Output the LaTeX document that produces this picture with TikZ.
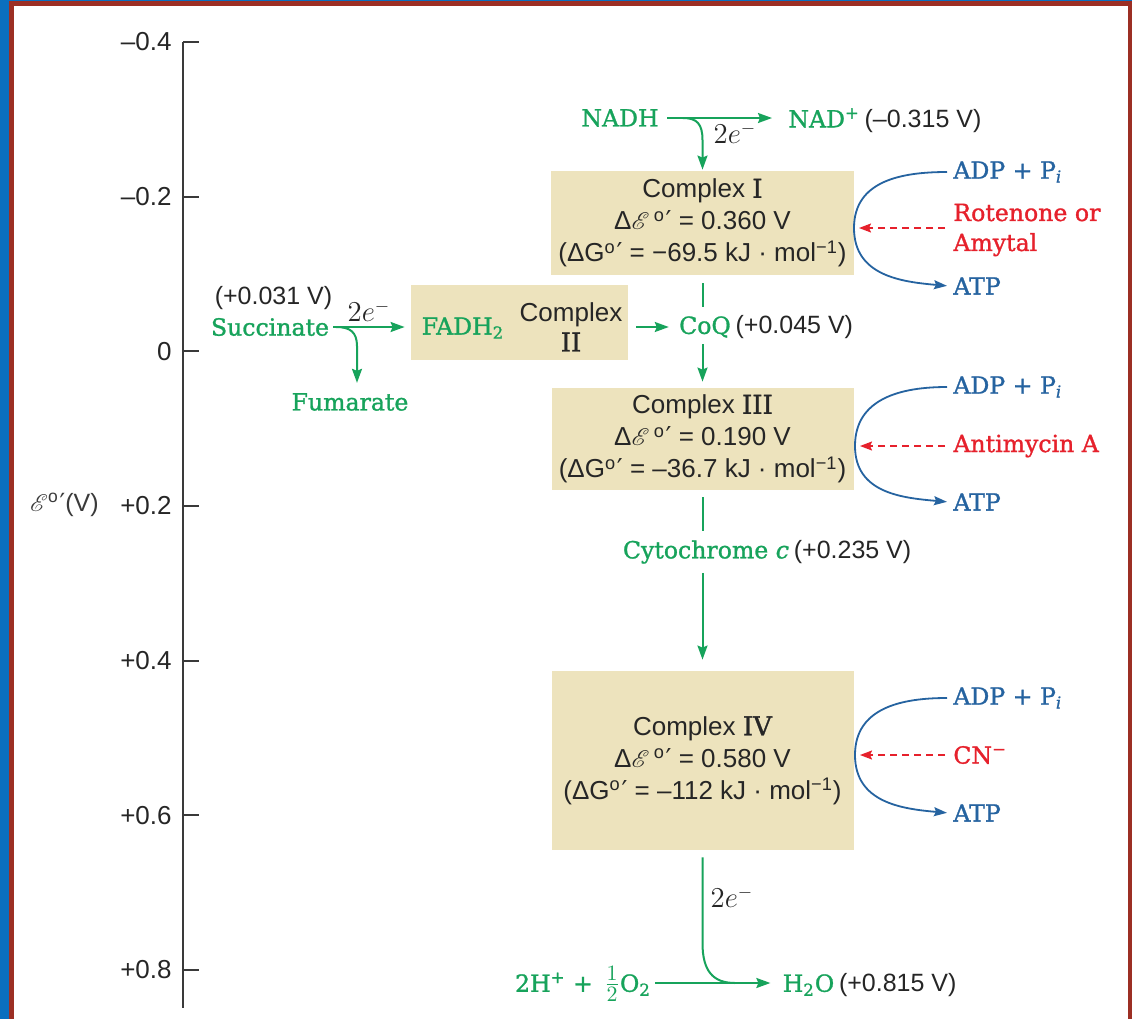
\documentclass[tikz,border=0pt]{standalone}
\usepackage{fontspec}
\usepackage{mathrsfs}
\setmainfont{Liberation Sans}
\newfontfamily\sansf{Liberation Sans}
\newfontfamily\serf[FakeBold=1.2]{DejaVu Serif}
\newfontfamily\djv{DejaVu Sans}
\usetikzlibrary{arrows.meta}

\definecolor{grn}{HTML}{17A35B}
\definecolor{blu}{HTML}{2563A0}
\definecolor{rd}{HTML}{E6212C}
\definecolor{boxc}{HTML}{EDE3BD}
\definecolor{ink}{HTML}{262626}
\definecolor{axc}{HTML}{3A3A3A}
\definecolor{frameblue}{HTML}{0A6FBF}
\definecolor{framered}{HTML}{9C2F24}

% standard-state marker: raised "o" followed by a prime
\newcommand{\degpr}{\textsuperscript{o}\kern0.03em{\djv\char"2032}}
\newcommand{\escr}{$\mathscr{E}$}

\begin{document}
\begin{tikzpicture}[x=0.5pt,y=-0.5pt,
  sf/.style={font=\sansf\fontsize{12.5}{15}\selectfont, text=ink, inner sep=2pt},
  val/.style={font=\sansf\fontsize{12.5}{15}\selectfont, text=ink, inner sep=0pt, anchor=base west},
  bx/.style={fill=boxc, inner sep=0pt, align=center, text=ink,
             font=\sansf\fontsize{13}{16}\selectfont},
  sr/.style={font=\serf\fontsize{11.8}{15}\selectfont, inner sep=2pt},
  gtxt/.style={sr, text=grn},
  btxt/.style={sr, text=blu, anchor=west},
  rtxt/.style={sr, text=rd, anchor=west, align=left},
  elab/.style={text=ink, inner sep=0pt, font=\fontsize{13.5}{15}\selectfont},
  gline/.style={draw=grn, line width=1pt},
  garrow/.style={gline, -{Stealth[length=7pt,width=5pt,inset=1pt]}},
  barrow/.style={draw=blu, line width=0.9pt, -{Stealth[length=6.5pt,width=4.5pt,inset=1pt]}},
  rarrow/.style={draw=rd, line width=0.8pt, dash pattern=on 3.5pt off 2.5pt,
                 -{Stealth[length=6pt,width=4.5pt,inset=1pt]}},
  axisline/.style={draw=axc, line width=1pt},
  ticklab/.style={font=\sansf\fontsize{13}{15}\selectfont, text=ink, anchor=east, inner sep=0pt}
]

% frame and page
\fill[frameblue] (0,0) rectangle (1132,1019);
\fill[framered] (9,1) rectangle (1132,1019);
\fill[white] (14,6) rectangle (1128,1019);
\useasboundingbox (0,0) rectangle (1132,1019);

% potential axis
\coordinate (atop) at (183,42);
\coordinate (abot) at (183,1008);
\draw[axisline] (atop) -- (abot);
\foreach \lab [count=\i from 0] in {–0.4,–0.2,0,+0.2,+0.4,+0.6,+0.8} {
  \coordinate (tk\i) at (183,{42+154.67*\i});
  \draw[axisline] (tk\i) -- ++(16,0);
  \node[ticklab] (tl\i) at (172,{42+154.67*\i}) {\lab};
}
\node[font=\sansf\fontsize{12.5}{15}\selectfont, text=axc, anchor=east, inner sep=0pt]
  (axlab) at (99,505) {$\mathscr{E}$\degpr(V)};

% respiratory complexes
\node[bx, minimum width=151.5pt, minimum height=52pt] (c1) at (702.5,223)
  {Complex {\serf I}\\ Δ\escr\,\degpr{} = 0.360 V\\ (ΔG\degpr{} = −69.5 kJ · mol\textsuperscript{−1})};
\node[bx, minimum width=108.5pt, minimum height=37.5pt] (c2) at (519.5,322.5) {};
\node[bx, minimum width=151pt, minimum height=51pt] (c3) at (702.5,439)
  {Complex {\serf III}\\ Δ\escr\,\degpr{} = 0.190 V\\ (ΔG\degpr{} = –36.7 kJ · mol\textsuperscript{−1})};
\node[bx, minimum width=151pt, minimum height=89.5pt] (c4) at (702.5,760.5)
  {Complex {\serf IV}\\ Δ\escr\,\degpr{} = 0.580 V\\ (ΔG\degpr{} = –112 kJ · mol\textsuperscript{−1})};

\node[gtxt] (fadh) at (463,328) {FADH\textsubscript{2}};
\node[sf, align=center, font=\sansf\fontsize{13}{15}\selectfont] (c2t) at (571,327)
  {Complex\\{\serf II}};

% NADH entry
\node[gtxt] (nadh) at (620,118) {NADH};
\node[gtxt, anchor=west] (nadp) at (784,118) {NAD\textsuperscript{+}};
\node[val] (nadv) at (nadp.base east) {(–0.315 V)};
\coordinate (nb) at (683,118);
\coordinate (nbv) at (702.5,140);
\draw[garrow, shorten <=2pt, shorten >=6pt] (nadh.east) -- (nadp.west);
\draw[garrow, shorten >=0.5pt] (nb) .. controls +(14,0) and +(0,-16) .. (nbv) -- (c1.north);
\node[elab] (e1) at (735,133) {$2e^-$};

% succinate entry
\node[gtxt] (succ) at (270,327) {Succinate};
\node[sf] (succv) at (273.5,298) {(+0.031 V)};
\node[gtxt] (fum) at (350,402) {Fumarate};
\draw[garrow, shorten >=3pt] (succ.east) -- (c2.west |- succ.east);
\coordinate (sb) at (336,327);
\coordinate (sbv) at (357,346);
\draw[garrow, shorten >=3pt] (sb) .. controls +(14,0) and +(0,-14) .. (sbv) -- (sbv |- fum.north);
\node[elab] (e2) at (369,311) {$2e^-$};

% coenzyme Q
\node[gtxt] (coq) at (705,327) {CoQ};
\node[val] (coqv) at (coq.base east) {(+0.045 V)};
\draw[garrow, shorten <=4pt, shorten >=3pt] (c2.east |- coq) -- (coq.west);
\draw[gline, shorten <=4pt, shorten >=2.5pt] (c1.south) -- (c1.south |- coq.north);
\draw[garrow, shorten <=1pt, shorten >=3pt] (c1.south |- coq.south) -- (c3.north);

% cytochrome c
\node[gtxt] (cytc) at (706,552) {Cytochrome \textit{c}};
\node[val] (cytv) at (cytc.base east) {(+0.235 V)};
\draw[gline, shorten <=3.5pt, shorten >=2.5pt] (c3.south) -- (c3.south |- cytc.north);
\draw[garrow, shorten <=2.5pt, shorten >=5.5pt] (c3.south |- cytc.south) -- (c4.north);

% oxygen reduction
\node[gtxt] (o2) at (583,984) {2H\textsuperscript{+} + \,{\fontsize{15}{15}\selectfont$\frac{1}{2}$}O\textsubscript{2}};
\node[gtxt] (h2o) at (808.5,985) {H\textsubscript{2}O};
\node[val] (h2ov) at (h2o.base east) {(+0.815 V)};
\coordinate (bend) at (702.5,943);
\coordinate (join) at (735,983);
\draw[garrow, shorten >=4pt] (o2.east |- join) -- (h2o.west |- join);
\draw[gline, shorten <=3.5pt] (c4.south) -- (bend) .. controls +(0,28) and +(-22,0) .. (join);
\node[elab] (e3) at (732,897) {$2e^-$};

% phosphorylation sites and inhibitors
\node[btxt] (adp1) at (949,172) {ADP + P\textsubscript{\textit{i}}};
\node[rtxt] (inh1) at (949,230) {Rotenone or\\Amytal};
\node[btxt] (atp1) at (949,286) {ATP};
\coordinate (lf1) at (854,228);
\draw[barrow, shorten <=1pt, shorten >=1pt] (adp1.west) to[out=180,in=90,looseness=1.1] (lf1) to[out=-90,in=175,looseness=1.1] (atp1.west);
\draw[rarrow, shorten <=2pt, shorten >=2.5pt] (inh1.west |- lf1) -- (lf1);

\node[btxt] (adp3) at (949,387) {ADP + P\textsubscript{\textit{i}}};
\node[rtxt] (inh3) at (949,446) {Antimycin A};
\node[btxt] (atp3) at (949,502) {ATP};
\coordinate (lf3) at (855,446);
\draw[barrow, shorten <=1pt, shorten >=1pt] (adp3.west) to[out=180,in=90,looseness=1.1] (lf3) to[out=-90,in=175,looseness=1.1] (atp3.west);
\draw[rarrow, shorten <=2pt, shorten >=2.5pt] (inh3.west |- lf3) -- (lf3);

\node[btxt] (adp4) at (949,698) {ADP + P\textsubscript{\textit{i}}};
\node[rtxt] (inh4) at (949,755) {CN\textsuperscript{−}};
\node[btxt] (atp4) at (949,813) {ATP};
\coordinate (lf4) at (855,755);
\draw[barrow, shorten <=1pt, shorten >=1pt] (adp4.west) to[out=180,in=90,looseness=1.1] (lf4) to[out=-90,in=175,looseness=1.1] (atp4.west);
\draw[rarrow, shorten <=2pt, shorten >=2.5pt] (inh4.west |- lf4) -- (lf4);

\end{tikzpicture}
\end{document}
